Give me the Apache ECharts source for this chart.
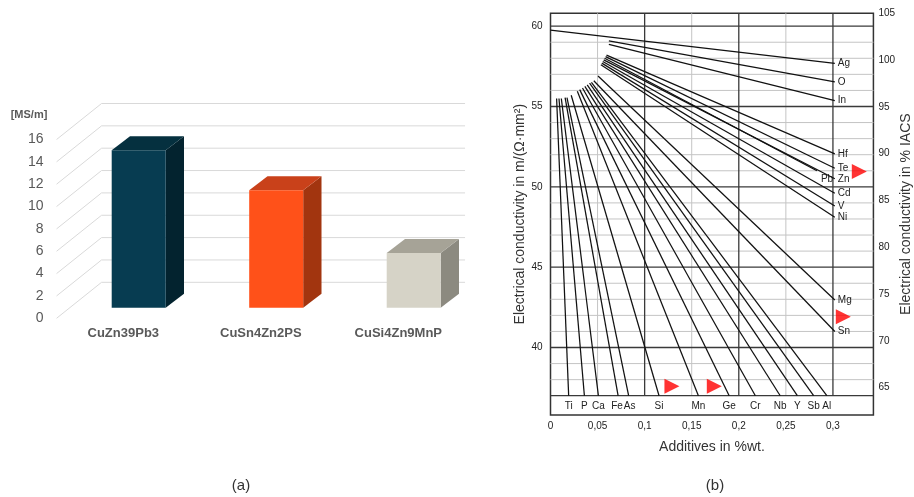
<!DOCTYPE html>
<html><head><meta charset="utf-8">
<script src="https://cdn.jsdelivr.net/npm/echarts@6/dist/echarts.min.js"></script>
<style>html,body{margin:0;padding:0;background:#fff}#c{width:914px;height:497px}</style>
</head><body><div id="c"></div>
<script>
// ---------- Panel (a): conductivity of alloys ----------
const alloys = ['CuZn39Pb3', 'CuSn4Zn2PS', 'CuSi4Zn9MnP'];
const conductivityMSm = [14.1, 10.5, 4.9];
const aTicks = [0, 2, 4, 6, 8, 10, 12, 14, 16];

// ---------- Panel (b): nomogram ----------
const xTickValues = [0, 0.05, 0.1, 0.15, 0.2, 0.25, 0.3];
const yTickValues = [40, 45, 50, 55, 60];
const iacsTickValues = [65, 70, 75, 80, 85, 90, 95, 100, 105];
const hMajor = [37, 40, 45, 50, 55, 60];
const hMinor = [38, 39, 41, 42, 43, 44, 46, 47, 48, 49, 51, 52, 53, 54, 56, 57, 58, 59];
const vMajor = [0.1, 0.2, 0.3];
const vMinor = [0.05, 0.15, 0.25];

const elements = ['Ag', 'O', 'In', 'Hf', 'Te', 'Pb', 'Zn', 'Cd', 'V', 'Ni', 'Mg', 'Sn',
  'Ti', 'P', 'Ca', 'Fe', 'As', 'Si', 'Mn', 'Ge', 'Cr', 'Nb', 'Y', 'Sb', 'Al'];
const startX = [0, 0.062, 0.062, 0.0595, 0.0585, 0.0575, 0.0565, 0.0555, 0.0545, 0.0535, 0.0505, 0.046,
  0.0065, 0.009, 0.0115, 0.0155, 0.0175, 0.022, 0.0285, 0.031, 0.034, 0.0365, 0.039, 0.0415, 0.0435];
const startY = [59.76, 59.09, 58.87, 58.2, 58.1, 58.0, 57.9, 57.8, 57.7, 57.6, 56.9, 56.6,
  55.5, 55.5, 55.5, 55.55, 55.55, 55.7, 55.95, 56.05, 56.15, 56.25, 56.35, 56.45, 56.5];
const endX = [0.302, 0.302, 0.302, 0.302, 0.302, 0.283, 0.302, 0.302, 0.302, 0.302, 0.302, 0.302,
  0.0193, 0.036, 0.0509, 0.0718, 0.083, 0.1153, 0.1571, 0.1898, 0.2176, 0.244, 0.2622, 0.2795, 0.2935];
const endY = [57.69, 56.53, 55.36, 52.05, 51.16, 51.0, 50.5, 49.6, 48.81, 48.11, 42.96, 41.0,
  37, 37, 37, 37, 37, 37, 37, 37, 37, 37, 37, 37, 37];

const markerX = [0.328, 0.311, 0.129, 0.174];
const markerY = [50.95, 41.92, 37.59, 37.59];

// axis extents
const B_XMIN = 0, B_XMAX = 0.343, B_YMIN = 35.8, B_YMAX = 60.8, B_LINE_BASE = 37;
const IACS_MIN = 62.08, IACS_MAX = 105;

// style-only helpers
const labelOffsets = { Pb: [1, 8], Fe: [-1, 0], As: [1, 0] };
const FONT = '"Liberation Sans", Arial, sans-serif';
const barColors = [
  { front: '#073c51', top: '#05303f', side: '#03232f' },
  { front: '#ff5119', top: '#c9411a', side: '#a2350f' },
  { front: '#d6d3c7', top: '#a6a397', side: '#8c8a80' }
];
const DEPTH = [45, -36];      // full depth of back wall (px)
const BAR_FRONT = [15.4, -10.6];
const BAR_DEPTH = [18.3, -14];
const BAR_W = 54;

const chart = echarts.init(document.getElementById('c'));

function wallRender(params, api) {
  const v = api.value(1);
  const p = api.coord([0, v]);
  const band = api.size([1, 0])[0];
  const left = p[0] - band / 2 + 2;
  const right = p[0] - band / 2 + band * alloys.length - 2;
  return {
    type: 'polyline',
    shape: { points: [[left, p[1]], [left + DEPTH[0], p[1] + DEPTH[1]], [right, p[1] + DEPTH[1]]] },
    style: { stroke: '#d9d9d9', lineWidth: 1, fill: null }
  };
}

function barRender(params, api) {
  const i = api.value(0);
  const p0 = api.coord([i, 0]);
  const p1 = api.coord([i, api.value(1)]);
  const cx = p0[0] + BAR_FRONT[0];
  const x0 = cx - BAR_W / 2, x1 = cx + BAR_W / 2;
  const yb = p0[1] + BAR_FRONT[1], yt = p1[1] + BAR_FRONT[1];
  const dx = BAR_DEPTH[0], dy = BAR_DEPTH[1];
  const c = barColors[i];
  return {
    type: 'group',
    children: [
      { type: 'polygon', shape: { points: [[x1, yt], [x1 + dx, yt + dy], [x1 + dx, yb + dy], [x1, yb]] }, style: { fill: c.side } },
      { type: 'polygon', shape: { points: [[x0, yt], [x0 + dx, yt + dy], [x1 + dx, yt + dy], [x1, yt]] }, style: { fill: c.top } },
      { type: 'rect', shape: { x: x0, y: yt, width: BAR_W, height: yb - yt }, style: { fill: c.front } }
    ]
  };
}

function hLineRender(color, width) {
  return function (params, api) {
    const v = api.value(1);
    const a = api.coord([B_XMIN, v]);
    const b = api.coord([B_XMAX, v]);
    return { type: 'line', shape: { x1: a[0], y1: a[1], x2: b[0], y2: b[1] }, style: { stroke: color, lineWidth: width } };
  };
}
function vLineRender(color, width) {
  return function (params, api) {
    const v = api.value(0);
    const a = api.coord([v, B_LINE_BASE]);
    const b = api.coord([v, B_YMAX]);
    return { type: 'line', shape: { x1: a[0], y1: a[1], x2: b[0], y2: b[1] }, style: { stroke: color, lineWidth: width } };
  };
}

function elementRender(params, api) {
  const p0 = api.coord([api.value(0), api.value(1)]);
  const p1 = api.coord([api.value(2), api.value(3)]);
  const name = elements[params.dataIndex];
  const atBottom = api.value(3) <= B_LINE_BASE + 0.001;
  const off = labelOffsets[name] || [0, 0];
  const tx = atBottom ? p1[0] : p1[0] + 3;
  const ty = atBottom ? p1[1] + 11 : p1[1];
  return {
    type: 'group',
    children: [
      { type: 'line', shape: { x1: p0[0], y1: p0[1], x2: p1[0], y2: p1[1] }, style: { stroke: '#111', lineWidth: 1.25 } },
      { type: 'text', x: tx + off[0], y: ty + off[1], style: { text: name, fill: '#222', font: '10px ' + FONT, align: atBottom ? 'center' : 'left', verticalAlign: 'middle' } }
    ]
  };
}

const elementData = elements.map((e, i) => [startX[i], startY[i], endX[i], endY[i]]);

chart.setOption({
  animation: false,
  textStyle: { fontFamily: FONT },
  grid: [
    { left: 54.55, width: 412.5, top: 139.5, height: 178.8 },
    { left: 550.5, width: 328.6, top: 13.3, height: 401.7, show: true, borderColor: '#333', borderWidth: 1.5, backgroundColor: '#fff' }
  ],
  xAxis: [
    {
      type: 'category', gridIndex: 0, data: alloys,
      axisLine: { show: false }, axisTick: { show: false },
      axisLabel: { fontSize: 13, fontWeight: 'bold', color: '#595959', margin: 9 }
    },
    {
      type: 'value', gridIndex: 1, min: B_XMIN, max: B_XMAX,
      axisLine: { show: false }, axisTick: { show: false }, splitLine: { show: false },
      axisLabel: { customValues: xTickValues, fontSize: 10, color: '#222', margin: 6,
        formatter: v => String(Math.round(v * 100) / 100).replace('.', ',') },
      name: 'Additives in %wt.', nameLocation: 'middle', nameGap: 25,
      nameTextStyle: { fontSize: 14, color: '#333' }
    }
  ],
  yAxis: [
    {
      type: 'value', gridIndex: 0, min: 0, max: 16, interval: 2,
      axisLine: { show: false }, axisTick: { show: false }, splitLine: { show: false },
      axisLabel: { fontSize: 14, color: '#595959', margin: 11 }
    },
    {
      type: 'value', gridIndex: 1, min: B_YMIN, max: B_YMAX, position: 'left',
      axisLine: { show: false }, axisTick: { show: false }, splitLine: { show: false },
      axisLabel: { customValues: yTickValues, fontSize: 10, color: '#222', margin: 8 },
      name: 'Electrical conductivity in m/(Ω·mm²)', nameLocation: 'middle', nameGap: 22, nameRotate: 90,
      nameTextStyle: { fontSize: 14, color: '#333' }
    },
    {
      type: 'value', gridIndex: 1, min: IACS_MIN, max: IACS_MAX, position: 'right',
      axisLine: { show: false }, axisTick: { show: false }, splitLine: { show: false },
      axisLabel: { customValues: iacsTickValues, fontSize: 10, color: '#222', margin: 5 },
      name: 'Electrical conductivity in % IACS', nameLocation: 'middle', nameGap: 25, nameRotate: 90,
      nameTextStyle: { fontSize: 14, color: '#333' }
    }
  ],
  graphic: [
    { type: 'text', x: 29, y: 115, style: { text: '[MS/m]', font: 'bold 11px ' + FONT, fill: '#595959', align: 'center', verticalAlign: 'middle' } },
    { type: 'text', x: 241, y: 486, style: { text: '(a)', font: '15px ' + FONT, fill: '#333', align: 'center', verticalAlign: 'middle' } },
    { type: 'text', x: 715, y: 486, style: { text: '(b)', font: '15px ' + FONT, fill: '#333', align: 'center', verticalAlign: 'middle' } }
  ],
  series: [
    { type: 'custom', name: 'walls', xAxisIndex: 0, yAxisIndex: 0, renderItem: wallRender, data: aTicks.map(v => [0, v]), z: 1, silent: true },
    { type: 'custom', name: 'bars', xAxisIndex: 0, yAxisIndex: 0, renderItem: barRender, data: conductivityMSm.map((v, i) => [i, v]), z: 2 },
    { type: 'custom', name: 'hMinor', xAxisIndex: 1, yAxisIndex: 1, renderItem: hLineRender('#c4c4c4', 1), data: hMinor.map(v => [0, v]), z: 1, silent: true },
    { type: 'custom', name: 'vMinor', xAxisIndex: 1, yAxisIndex: 1, renderItem: vLineRender('#c4c4c4', 1), data: vMinor.map(v => [v, B_YMAX]), z: 1, silent: true },
    { type: 'custom', name: 'hMajor', xAxisIndex: 1, yAxisIndex: 1, renderItem: hLineRender('#3a3a3a', 1.3), data: hMajor.map(v => [0, v]), z: 2, silent: true },
    { type: 'custom', name: 'vMajor', xAxisIndex: 1, yAxisIndex: 1, renderItem: vLineRender('#3a3a3a', 1.3), data: vMajor.map(v => [v, B_YMAX]), z: 2, silent: true },
    { type: 'custom', name: 'elements', xAxisIndex: 1, yAxisIndex: 1, renderItem: elementRender,
      dimensions: ['x0', 'y0', 'x1', 'y1'], encode: { x: [0, 2], y: [1, 3] }, data: elementData, z: 3 },
    { type: 'scatter', name: 'markers', xAxisIndex: 1, yAxisIndex: 1, symbol: 'triangle', symbolRotate: -90, symbolSize: 15,
      itemStyle: { color: '#ff0000' }, data: markerX.map((x, i) => [x, markerY[i]]), z: 4 }
  ]
});
</script>
</body></html>
